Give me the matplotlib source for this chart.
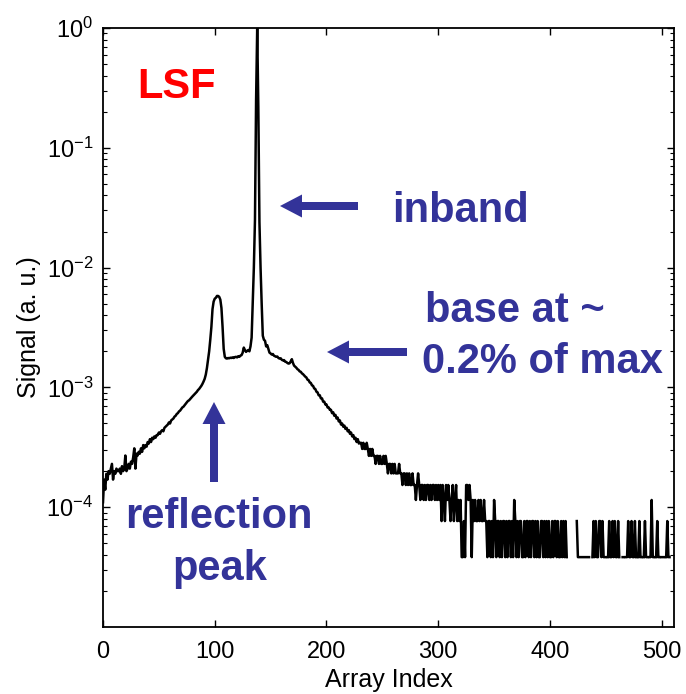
import numpy as np
import matplotlib
matplotlib.use('Agg')
import matplotlib.pyplot as plt
from matplotlib.patches import FancyArrow
from matplotlib.transforms import IdentityTransform
from matplotlib.ticker import LogLocator, NullFormatter

plt.rcParams['font.family'] = ['Liberation Sans', 'DejaVu Sans']
plt.rcParams['mathtext.fontset'] = 'custom'
plt.rcParams['mathtext.rm'] = 'Liberation Sans'
plt.rcParams['mathtext.it'] = 'Liberation Sans:italic'
plt.rcParams['mathtext.bf'] = 'Liberation Sans:bold'
plt.rcParams['mathtext.default'] = 'regular'

# ---------------- data ----------------
unit_e4 = 1e-4          # float segments are given in units of 1e-4
count_unit = 3.83e-5    # tail is given in detector counts

# index 0..91 : left wing (x 1e-4)
wing_left = [1.1, 1.7, 1.4, 1.9, 1.7, 2.0, 1.9, 2.1, 2.3, 1.7,
             2.0, 1.9, 2.1, 2.0, 2.0, 2.1, 1.9, 2.2, 2.0, 2.1,
             2.7, 2.0, 2.1, 2.3, 2.1, 2.4, 2.3, 2.6, 3.1, 2.1,
             2.8, 2.7, 2.9, 2.8, 3.1, 2.9, 3.3, 3.1, 3.3, 3.2,
             3.5, 3.4, 3.7, 3.5, 3.8, 3.7, 3.9, 3.8, 4.0, 4.0,
             4.2, 4.1, 4.3, 4.4, 4.3, 4.6, 4.7, 4.8, 4.9, 5.1,
             5.0, 5.3, 5.4, 5.5, 5.7, 5.8, 6.0, 6.1, 6.3, 6.4,
             6.6, 6.8, 6.9, 7.1, 7.3, 7.5, 7.7, 7.8, 8.0, 8.2,
             8.4, 8.6, 8.8, 9.0, 9.2, 9.5, 9.7, 10.0, 10.3, 10.7,
             11.2, 11.8]

# index 92..133 : reflection peak and shoulder (x 1e-4)
reflection = [12.8, 14.5, 17, 20, 25, 32, 45, 52, 55, 56,
              58, 58, 57, 54, 46, 32, 21, 18, 17.5, 17.4,
              17.6, 17.5, 17.7, 17.6, 17.8, 17.6, 17.9, 18.0, 17.8, 18.2,
              18.0, 18.4, 18.6, 19.5, 21.5, 20.5, 19.8, 20.2, 20.5, 20.0,
              22, 26]

# index 134..142 : inband peak (x 1e-4)
inband = [50, 100, 250, 2500, 10000, 2200, 240, 100, 50]

# index 143..229 : right wing (x 1e-4)
wing_right = [27, 25, 24.5, 22, 22.5, 21, 19.5, 19.2, 18.8, 19.0,
              18.4, 18.2, 18.0, 18.1, 17.6, 17.4, 17.5, 17.0, 16.8, 16.9,
              16.4, 16.3, 16.0, 15.8, 15.9, 16.5, 17.2, 16.0, 15.2, 14.9,
              14.6, 14.2, 14.0, 13.6, 13.5, 13.1, 12.9,
              12.6, 12.3, 12.1, 11.6, 11.5, 11.0, 10.9, 10.4, 10.3, 9.8,
              9.7, 9.2, 9.1, 8.6, 8.6, 8.1, 8.1, 7.6, 7.6, 7.2,
              7.2, 6.8, 6.8, 6.5, 6.5, 6.1, 6.2, 5.8, 5.9, 5.5,
              5.6, 5.2, 5.3, 4.9, 5.0, 4.7, 4.8, 4.5, 4.6, 4.3,
              4.4, 4.1, 4.2, 3.9, 4.0, 3.7, 3.8, 3.5, 3.7, 3.4]

# index 230..507 : quantised tail (counts)
tail_counts = [9, 9, 8, 9, 8, 8, 9, 8, 7, 8,
               7, 8, 7, 7, 6, 7, 7, 6, 7, 6, 6, 7,
               6, 7, 6, 5, 6, 6, 5, 6, 5, 6, 5, 5,
               5, 6, 5, 5, 4, 5, 5, 4, 5, 4, 5, 4,
               4, 5, 4, 4, 3, 4, 5, 4, 3, 4, 4, 3,
               4, 3, 4, 4, 3, 4, 3, 4, 4, 3, 4, 3,
               4, 3, 4, 2, 4, 3, 2, 4, 3, 4, 3, 2,
               3, 4, 2, 3, 4, 2, 3, 2, 3,
               1, 1, 2, 1,
               4, 4, 3, 4, 3,
               1,
               3, 2, 3, 2, 2, 3, 2, 3, 2, 2, 3, 2,
               2, 1, 2, 2, 1, 2, 1, 3, 2, 1, 2, 2, 1, 2, 1, 2, 2, 1, 2, 1,
               2, 2, 1, 2, 1, 3, 2, 1, 2, 1, 2, 2, 1, 1, 2, 1, 2, 2, 1, 2,
               1, 2, 2, 1, 2, 1, 2, 1, 1, 2, 2, 1, 2, 1, 2, 1, 2, 1, 1, 2,
               1, 2,
               2, 1, 2, 1, 1, 2, 1, 2, 1, 2, 1,
               0, 2, 0,
               0, 1, 0, 0, 0, 2,
               1, 1, 1, 1, 1, 1, 1, 1, 1, 1, 1,
               0, 0, 1,
               2, 1, 2, 1, 1, 2, 2, 1, 2, 1, 1,
               1, 0,
               1, 2, 1, 1, 2, 1, 2, 1, 1, 2, 1,
               0, 0,
               1, 1, 0, 1, 1, 2, 1, 1, 2, 1, 1, 2, 1, 0, 1, 2, 1, 1, 0, 1,
               2, 1, 1, 0, 1, 1, 3, 1, 1, 0, 1, 2, 1, 1, 0, 1, 1, 1, 0, 1,
               2, 1, 1]

x_ticks = [0, 100, 200, 300, 400, 500]
y_ticks = [1e-4, 1e-3, 1e-2, 1e-1, 1e0]

signal = np.concatenate([np.array(wing_left + reflection + inband + wing_right) * unit_e4,
                         np.array(tail_counts, dtype=float) * count_unit])
index = np.arange(len(signal))

# ---------------- figure ----------------
W, H = 686, 694
fig = plt.figure(figsize=(W / 100, H / 100), dpi=100)
ax = fig.add_axes([103 / W, 1 - 627 / H, 571 / W, 599 / H])

ax.plot(index, signal, color='black', lw=1.8, solid_joinstyle='round')
ax.set_yscale('log', nonpositive='mask')
ax.set_xlim(0, 511)
ax.set_ylim(1e-5, 1)
ax.set_xticks(x_ticks)
ax.set_yticks(y_ticks)
ax.yaxis.set_minor_locator(LogLocator(base=10, subs=np.arange(2, 10), numticks=20))
ax.yaxis.set_minor_formatter(NullFormatter())
ax.tick_params(which='both', direction='in', top=True, right=True, labelsize=17)
ax.tick_params(which='major', length=5, width=1.0)
ax.tick_params(which='minor', length=3, width=0.8)
ax.tick_params(axis='x', pad=10)
ax.tick_params(axis='y', pad=7)
for s in ax.spines.values():
    s.set_linewidth(1.3)

ax.set_xlabel('Array Index', fontsize=18)
ax.set_ylabel('Signal (a. u.)', fontsize=18)
ax.xaxis.set_label_coords(0.5, -0.069)
ax.yaxis.set_label_coords(-0.108, 0.5)

# ---------------- annotations ----------------
blue = '#333399'
def ftext(px, py, s, **kw):
    fig.text(px / W, 1 - py / H, s, fontsize=30, fontweight='bold', va='baseline', **kw)

ftext(137, 98, 'LSF', color='#ff0000')
ftext(392, 222, 'inband', color=blue)
ftext(425, 322, 'base at ~', color=blue)
ftext(422, 373, '0.2% of max', color=blue)
ftext(218.5, 528, 'reflection', color=blue, ha='center')
ftext(219.5, 580, 'peak', color=blue, ha='center')

def farrow(x0, y0, x1, y1):
    a = FancyArrow(x0, H - y0, x1 - x0, -(y1 - y0), width=8, head_width=23,
                   head_length=22, length_includes_head=True, color=blue,
                   transform=IdentityTransform(), lw=0)
    fig.add_artist(a)

farrow(358, 206, 280, 206)
farrow(407, 352, 327, 352)
farrow(214, 482, 214, 402)

fig.savefig('out.png', dpi=100)
